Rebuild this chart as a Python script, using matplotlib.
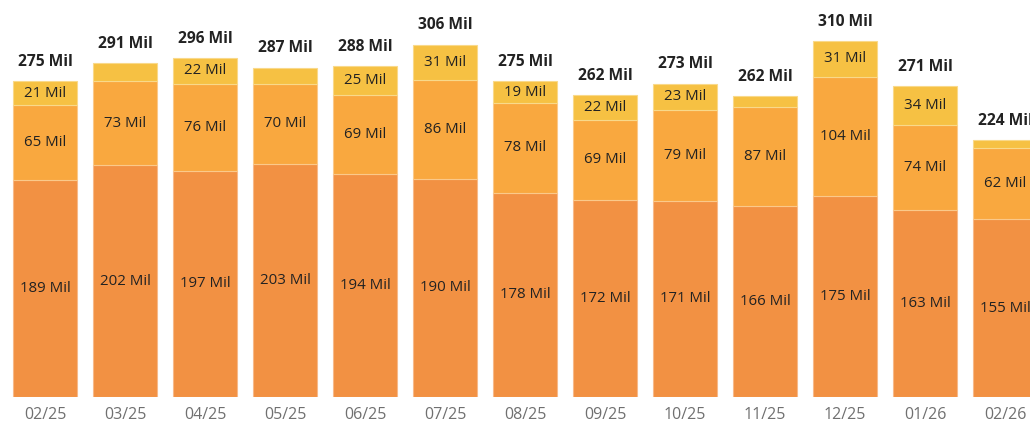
import matplotlib

matplotlib.use("Agg")
import matplotlib.pyplot as plt
import numpy as np

months = ["02/25", "03/25", "04/25", "05/25", "06/25", "07/25", "08/25",
          "09/25", "10/25", "11/25", "12/25", "01/26", "02/26"]
base = [189, 202, 197, 203, 194, 190, 178, 172, 171, 166, 175, 163, 155]
middle = [65, 73, 76, 70, 69, 86, 78, 69, 79, 87, 104, 74, 62]
top = [21, 16, 22, 14, 25, 31, 19, 22, 23, 9, 31, 34, 7]
totals = [275, 291, 296, 287, 288, 306, 275, 262, 273, 262, 310, 271, 224]

COLORS = ["#F29143", "#F9A83F", "#F6C143"]
EDGES = ["#F7B98A", "#FBC98A", "#F9D98A"]
LABEL_MIN = 18

plt.rcParams["font.family"] = ["Open Sans", "DejaVu Sans"]

fig = plt.figure(figsize=(10.3, 4.24), dpi=100)
ax = fig.add_axes([0, 27 / 424, 1, 397 / 424])

x = np.arange(len(months))
bottom = np.zeros(len(months))
for vals, color, edge in zip([base, middle, top], COLORS, EDGES):
    vals = np.array(vals, dtype=float)
    ax.bar(x, vals, width=0.8, bottom=bottom, color=color,
           edgecolor=edge, linewidth=0.8)
    for xi, b, v in zip(x, bottom, vals):
        if v >= LABEL_MIN:
            ax.text(xi, b + v / 2, f"{int(v)} Mil", ha="center", va="center",
                    fontsize=10.8, color="#222222")
    bottom += vals

for xi, stack_top, tot in zip(x, bottom, totals):
    ax.annotate(f"{tot} Mil", (xi, stack_top), xytext=(0, 8),
                textcoords="offset points", ha="center", va="bottom",
                fontsize=11.2, fontweight="bold", color="#222222")

ax.set_xlim(-45 / 80, (1030 - 45) / 80)
ax.set_ylim(0, 397 / 1.148)
ax.set_xticks(x)
ax.set_xticklabels(months, fontsize=11.5, color="#707070")
ax.tick_params(axis="x", length=0, pad=7)
ax.set_yticks([])
for spine in ax.spines.values():
    spine.set_visible(False)

fig.savefig("out.png", dpi=100)
